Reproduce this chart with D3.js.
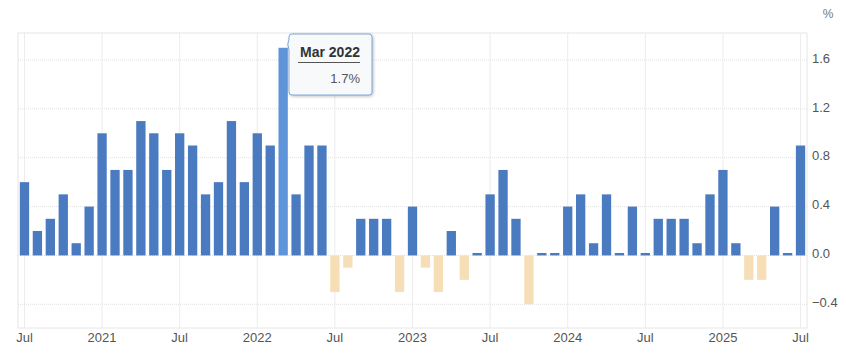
<!DOCTYPE html>
<html>
<head>
<meta charset="utf-8">
<script src="https://cdn.jsdelivr.net/npm/d3@7/dist/d3.min.js"></script>
<style>
  html, body { margin: 0; padding: 0; background: #fff; }
  svg { display: block; font-family: "Liberation Sans", Arial, sans-serif; }
</style>
</head>
<body>
<svg id="chart" width="846" height="357"></svg>
<script>
// ---- Data (monthly % change, Jul 2020 .. Jul 2025) ----
const startYear = 2020, startMonth = 6; // July 2020 (0-based month)
const values = [
  0.6, 0.2, 0.3, 0.5, 0.1, 0.4,            // Jul-Dec 2020
  1.0, 0.7, 0.7, 1.1, 1.0, 0.7, 1.0, 0.9, 0.5, 0.6, 1.1, 0.6, // 2021
  1.0, 0.9, 1.7, 0.5, 0.9, 0.9, -0.3, -0.1, 0.3, 0.3, 0.3, -0.3, // 2022
  0.4, -0.1, -0.3, 0.2, -0.2, 0.02, 0.5, 0.7, 0.3, -0.4, 0.02, 0.02, // 2023
  0.4, 0.5, 0.1, 0.5, 0.02, 0.4, 0.02, 0.3, 0.3, 0.3, 0.1, 0.5, // 2024
  0.7, 0.1, -0.2, -0.2, 0.4, 0.02, 0.9      // Jan-Jul 2025
];
const monthNames = ["Jan","Feb","Mar","Apr","May","Jun","Jul","Aug","Sep","Oct","Nov","Dec"];
const months = values.map((v, i) => {
  const m = (startMonth + i) % 12, y = startYear + Math.floor((startMonth + i) / 12);
  return { key: monthNames[m] + " " + y, m, y, v };
});
const yTicks = [-0.4, 0.0, 0.4, 0.8, 1.2, 1.6];
const highlighted = "Mar 2022";
const unitLabel = "%";

// ---- Layout ----
const svg = d3.select("#chart");
const plot = { left: 18, right: 807, top: 33, bottom: 328 };

const x = d3.scaleBand()
  .domain(months.map(d => d.key))
  .range([plot.left, plot.right])
  .paddingInner(0.28)
  .paddingOuter(0.14);

const y = d3.scaleLinear()
  .domain([-0.4, 1.6])
  .range([304.3, 60]);

// frame
svg.append("rect")
  .attr("x", plot.left).attr("y", plot.top)
  .attr("width", plot.right - plot.left).attr("height", plot.bottom - plot.top)
  .attr("fill", "none").attr("stroke", "#e6e6e6");

// vertical grid at Jan/Jul
const xTickMonths = months.filter(d => d.m === 0 || d.m === 6);
svg.append("g").selectAll("line").data(xTickMonths).join("line")
  .attr("x1", d => x(d.key) + x.bandwidth() / 2)
  .attr("x2", d => x(d.key) + x.bandwidth() / 2)
  .attr("y1", plot.top).attr("y2", plot.bottom)
  .attr("stroke", "#ececec");

// horizontal grid
svg.append("g").selectAll("line").data(yTicks).join("line")
  .attr("x1", plot.left).attr("x2", plot.right)
  .attr("y1", d => y(d)).attr("y2", d => y(d))
  .attr("stroke", "#e2e2e2")
  .attr("stroke-dasharray", "1,1");

// bars
svg.append("g").selectAll("rect").data(months).join("rect")
  .attr("x", d => x(d.key))
  .attr("width", x.bandwidth())
  .attr("y", d => y(Math.max(0, d.v)))
  .attr("height", d => Math.max(1.5, Math.abs(y(d.v) - y(0))))
  .attr("fill", d => d.key === highlighted ? "#5f93da" : (d.v < 0 ? "#f6dfb6" : "#4a7bc0"));

// y axis (right)
const yAxis = d3.axisRight(y).tickValues(yTicks).tickFormat(d3.format(".1f")).tickSize(0).tickPadding(0);
const ya = svg.append("g").attr("transform", `translate(812,-2)`).call(yAxis);
ya.select(".domain").remove();
ya.selectAll("text").attr("fill", "#555").attr("font-size", 13)
  .attr("font-family", "\"Liberation Sans\", Arial, sans-serif");

svg.append("text").attr("x", 828).attr("y", 18).attr("text-anchor", "middle")
  .attr("fill", "#777").attr("font-size", 12).text(unitLabel);

// x axis
const xAxis = d3.axisBottom(x)
  .tickValues(xTickMonths.map(d => d.key))
  .tickFormat(k => { const d = months.find(mm => mm.key === k); return d.m === 0 ? String(d.y) : "Jul"; })
  .tickSize(0).tickPadding(0);
const xa = svg.append("g").attr("transform", `translate(0,${plot.bottom + 2})`).call(xAxis);
xa.select(".domain").remove();
xa.selectAll("text").attr("fill", "#555").attr("font-size", 13).attr("dy", "0.9em")
  .attr("font-family", "\"Liberation Sans\", Arial, sans-serif");

// tooltip
const hd = months.find(d => d.key === highlighted);
const hx = x(hd.key) + x.bandwidth();
const tip = svg.append("g");
const bx = 289, by = 34, bw = 83, bh = 61;
tip.append("path")
  .attr("d", `M${bx + 3},${by} H${bx + bw - 3} Q${bx + bw},${by} ${bx + bw},${by + 3} V${by + bh - 3} Q${bx + bw},${by + bh} ${bx + bw - 3},${by + bh} H${bx + 3} Q${bx},${by + bh} ${bx},${by + bh - 3} V${by + 16} L${hx},${by + 10} L${bx},${by + 6} V${by + 3} Q${bx},${by} ${bx + 3},${by} Z`)
  .attr("fill", "rgba(250,251,253,0.97)")
  .attr("stroke", "#7ea6d8").attr("stroke-width", 1)
  .style("filter", "drop-shadow(1px 1px 1.5px rgba(0,0,0,0.25))");
tip.append("text").attr("x", 330).attr("y", 57).attr("text-anchor", "middle")
  .attr("font-weight", "bold").attr("font-size", 14).attr("fill", "#333").text(hd.key);
tip.append("line").attr("x1", 298).attr("x2", 360).attr("y1", 62.5).attr("y2", 62.5)
  .attr("stroke", "#555").attr("stroke-width", 1);
tip.append("text").attr("x", 360).attr("y", 83).attr("text-anchor", "end")
  .attr("font-size", 13).attr("fill", "#555").text(d3.format(".1f")(hd.v) + "%");
</script>
</body>
</html>
